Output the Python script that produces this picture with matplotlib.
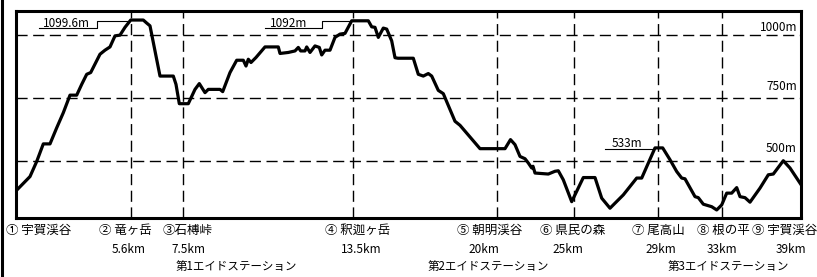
import matplotlib
matplotlib.use("Agg")
import matplotlib.pyplot as plt
from matplotlib.lines import Line2D

plt.rcParams['font.family'] = ['Noto Sans CJK JP', 'DejaVu Sans']

# course profile: position along the chart and elevation (m)
pos = [16, 30, 36.7, 43.3, 50, 56.7, 63.3, 70, 76.7, 81.7, 86.7, 90.7, 100, 105, 110, 115, 120, 125,
       130.7, 143.3, 146.7, 150, 155, 160, 173.3, 176, 179.3, 188.3, 195, 199.3, 205, 208.3, 220, 222.7,
       230, 236.7, 243.3, 246, 248.3, 251, 256, 265, 278.3, 280, 288.3, 295, 298.3, 300.7, 305, 306.7,
       310, 315, 319.3, 321.7, 325, 330, 335, 340, 345, 351.7, 368.3, 371.7, 375, 378.3, 383.3, 386.7,
       391.7, 395, 398, 413.3, 418.3, 423.3, 428.3, 431.7, 438.3, 443.3, 455, 460, 480, 505, 510.5,
       515, 520, 525, 528.3, 531.7, 533, 535, 548.3, 555, 558.3, 563.3, 571.7, 583.3, 595, 601.7, 610,
       623.3, 636.7, 641.7, 655, 662.7, 670, 676.7, 681.7, 685, 695, 698.3, 703.3, 708.3, 711.7, 716.7,
       721.7, 726.7, 731.7, 736.7, 740, 745, 750, 760, 768.3, 773.3, 783.3, 790, 801]
elev = [380, 437, 497, 567, 567, 631, 691, 761, 761, 804, 844, 851, 924, 940, 953, 997, 1000, 1031,
        1060, 1060, 1048, 1037, 937, 837, 837, 804, 727, 727, 784, 807, 771, 784, 784, 775,
        851, 900, 900, 877, 904, 891, 911, 953, 953, 927, 931, 937, 951, 937, 937, 953,
        931, 957, 951, 921, 940, 940, 991, 1004, 1007, 1057, 1057, 1033, 1031, 991, 1028, 1024,
        977, 910, 908, 908, 844, 837, 847, 837, 780, 767, 657, 641, 548, 548, 584,
        564, 517, 508, 491, 471, 478, 451, 447, 458, 460, 424, 337, 433, 433, 351, 311,
        364, 431, 431, 551, 551, 504, 457, 431, 428, 357, 353, 327, 321, 317, 304,
        324, 371, 371, 393, 357, 353, 335, 391, 444, 447, 500, 471, 405]

# checkpoints
station_pos = [16, 131, 183, 353, 497, 574, 658, 722, 801]
station_names = ["① 宇賀渓谷", "② 竜ヶ岳", "③石榑峠", "④ 釈迦ヶ岳", "⑤ 朝明渓谷",
                 "⑥ 県民の森", "⑦ 尾高山", "⑧ 根の平", "⑨ 宇賀渓谷"]
name_pos = [39, 125, 188, 358, 490, 573, 658, 723, 785]
km_labels = ["5.6km", "7.5km", "13.5km", "20km", "25km", "29km", "33km", "39km"]
km_pos = [129, 188, 361, 484, 568, 661, 722, 791]
aid_labels = ["第1エイドステーション", "第2エイドステーション", "第3エイドステーション"]
aid_pos = [236, 488, 728]

levels = [500, 750, 1000]
level_labels = ["500m", "750m", "1000m"]
level_label_y = [548, 795, 1029]

fig = plt.figure(figsize=(8.17, 2.77), dpi=100)
ax = fig.add_axes([16/817, 59/277, 785/817, 207/277])
ax.set_xlim(16, 801)
ax.set_ylim(272, 1096)

for lv in levels:
    ax.axhline(lv, color='black', lw=1, dashes=(8, 4), zorder=1)
for sp in station_pos[1:-1]:
    ax.axvline(sp, color='black', lw=1, dashes=(8, 4), zorder=1)

ax.plot(pos, elev, color='black', lw=2.3, zorder=3)

for lab, yv in zip(level_labels, level_label_y):
    ax.text(797, yv, lab, ha='right', va='center', fontsize=8.5)

# peak notes
ax.plot([39, 97, 97, 127], [1028, 1028, 1056, 1056], color='black', lw=0.8)
ax.text(43, 1047, "1099.6m", ha='left', va='center', fontsize=8.5)
ax.plot([265, 322, 322, 350], [1028, 1028, 1056, 1056], color='black', lw=0.8)
ax.text(270, 1047, "1092m", ha='left', va='center', fontsize=8.5)
ax.plot([605, 654], [548, 548], color='black', lw=0.8)
ax.text(612, 568, "533m", ha='left', va='center', fontsize=8.5)

tr = ax.get_xaxis_transform()
for nm, x in zip(station_names, name_pos):
    ax.text(x, -0.061, nm, transform=tr, ha='center', va='center', fontsize=9, clip_on=False)
for k, x in zip(km_labels, km_pos):
    ax.text(x, -0.150, k, transform=tr, ha='center', va='center', fontsize=8.5, clip_on=False)
for a, x in zip(aid_labels, aid_pos):
    ax.text(x, -0.235, a, transform=tr, ha='center', va='center', fontsize=8.3, clip_on=False)

ax.set_xticks([])
ax.set_yticks([])
for s in ax.spines.values():
    s.set_linewidth(2.2)

# left edge bar of the whole panel
fig.add_artist(Line2D([0.002, 0.002], [0, 1], transform=fig.transFigure, color='black', lw=2.2))

fig.savefig("out.png", dpi=100)
